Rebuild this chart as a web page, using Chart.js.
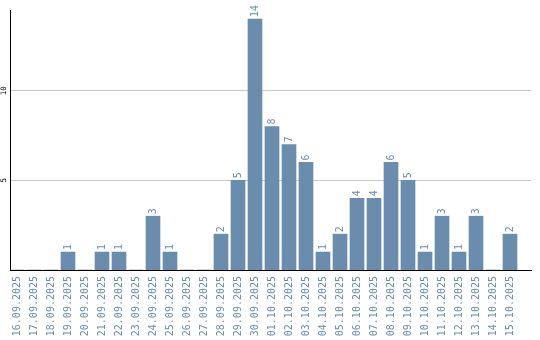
<!DOCTYPE html>
<html>
<head>
<meta charset="utf-8">
<script src="https://cdn.jsdelivr.net/npm/chart.js@4"></script>
<style>
  body { margin: 0; background: #fff; }
</style>
</head>
<body>
<canvas id="mychart" width="540" height="340"></canvas>
<script>
var dates = ['16.09.2025','17.09.2025','18.09.2025','19.09.2025','20.09.2025','21.09.2025','22.09.2025','23.09.2025','24.09.2025','25.09.2025',
             '26.09.2025','27.09.2025','28.09.2025','29.09.2025','30.09.2025','01.10.2025','02.10.2025','03.10.2025','04.10.2025','05.10.2025',
             '06.10.2025','07.10.2025','08.10.2025','09.10.2025','10.10.2025','11.10.2025','12.10.2025','13.10.2025','14.10.2025','15.10.2025']
var counts = [0,0,0,1,0,1,1,0,3,1,
              0,0,2,5,14,8,7,6,1,2,
              4,4,6,5,1,3,1,3,0,2]
var yTicks = [5, 10]

var barColor = '#6a8cad'

// rotated value labels above the bars + rotated y tick labels
var labelPlugin = {
    id: 'labels',
    afterDatasetsDraw: function (chart) {
        var ctx = chart.ctx
        var meta = chart.getDatasetMeta(0)
        ctx.save()
        ctx.font = '10px "DejaVu Sans Mono"'
        ctx.fillStyle = barColor
        ctx.textAlign = 'left'
        ctx.textBaseline = 'middle'
        meta.data.forEach(function (bar, i) {
            if (!counts[i]) return
            ctx.save()
            ctx.translate(bar.x, bar.y - 2)
            ctx.rotate(-Math.PI / 2)
            ctx.fillText(String(counts[i]), 0, 0)
            ctx.restore()
        })
        var ys = chart.scales.y
        ctx.font = '7.5px "DejaVu Sans Mono"'
        ctx.fillStyle = '#000'
        ctx.textAlign = 'center'
        yTicks.forEach(function (v) {
            ctx.save()
            ctx.translate(4.5, ys.getPixelForValue(v))
            ctx.rotate(-Math.PI / 2)
            ctx.fillText(String(v), 0, 0)
            ctx.restore()
        })
        ctx.restore()
    }
}

var chart = new Chart(document.getElementById('mychart').getContext('2d'), {
    type: 'bar',
    data: {
        datasets: [{
            data: counts.map(function (v, i) { return { x: i, y: v } }),
            backgroundColor: barColor,
            barThickness: 14
        }]
    },
    options: {
        responsive: false,
        animation: false,
        layout: { padding: { top: 10, right: 9, left: 0, bottom: 0 } },
        plugins: { legend: { display: false }, tooltip: { enabled: false } },
        scales: {
            x: {
                type: 'linear',
                offset: false,
                min: -7 / 17,
                max: -7 / 17 + 521 / 17,
                afterBuildTicks: function (scale) {
                    scale.ticks = dates.map(function (d, i) { return { value: i } })
                },
                afterFit: function (scale) { scale.height = 70 },
                grid: { display: false, drawTicks: false },
                border: { color: '#000', width: 1 },
                ticks: {
                    autoSkip: false,
                    minRotation: 90,
                    maxRotation: 90,
                    padding: 6,
                    color: barColor,
                    font: { family: 'DejaVu Sans Mono', size: 10 },
                    callback: function (value, index) { return dates[index] }
                }
            },
            y: {
                min: 0,
                max: 14.5,
                afterBuildTicks: function (scale) {
                    scale.ticks = yTicks.map(function (v) { return { value: v } })
                },
                afterFit: function (scale) { scale.width = 10 },
                grid: { color: '#c8c8c8', drawTicks: false },
                border: { color: '#000', width: 1 },
                ticks: { display: false }
            }
        }
    },
    plugins: [labelPlugin]
})
</script>
</body>
</html>
